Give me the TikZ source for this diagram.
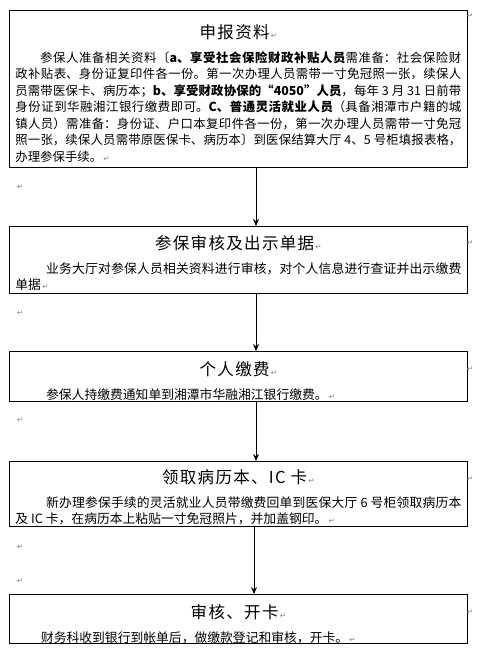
\documentclass[tikz,border=0pt]{standalone}
\usepackage{fontspec}
\setmainfont{Noto Sans CJK SC}
\newfontfamily\markfont{DejaVu Sans}
\usetikzlibrary{arrows.meta}
\XeTeXlinebreaklocale "zh"
\XeTeXlinebreakskip=0pt plus 1pt

\newcommand\bodyfont{\fontsize{12.4}{16.5}\selectfont}
\newcommand\widefont{\fontsize{12.8}{16.5}\selectfont}
\newcommand\kopfont{\fontsize{16.5}{20}\selectfont\addfontfeatures{LetterSpace=8}}
\newcommand\pmk{{\markfont\fontsize{7.5}{8}\selectfont\color{gray}\,↵}}
\newcommand\kop[1]{\makebox[\linewidth][c]{\kopfont #1\pmk}\par\vspace{7pt}}

\begin{document}
\begin{tikzpicture}[>={Stealth[length=7pt,width=6pt]}, x=1pt, y=-1pt,
  stagebox/.style={draw, line width=0.8pt, text width=446pt, inner xsep=6pt,
    inner ysep=0pt, align=justify, anchor=north west, font=\bodyfont},
  flow/.style={->, line width=0.8pt},
  markbox/.style={inner sep=0pt, font=\markfont\fontsize{7.5}{8}\selectfont, text=gray}]

  \useasboundingbox (0,0) rectangle (477,651);

  % Stappen
  \node[stagebox, text height=28.8pt, text depth=128.7pt] (aanvraag) at (9,9.5)
    {\kop{申报资料}\hspace*{2em}参保人准备相关资料〔\textbf{a、享受社会保险财政补贴人员}需准备：社会保险财\linebreak
     政补贴表、身份证复印件各一份。第一次办理人员需带一寸免冠照一张，续保人\linebreak
     员需带医保卡、病历本；\textbf{b、享受财政协保的“4050”人员}，每年 3 月 31 日前带\linebreak
     身份证到华融湘江银行缴费即可。\textbf{C、普通灵活就业人员}（具备湘潭市户籍的城\linebreak
     镇人员）需准备：身份证、户口本复印件各一份，第一次办理人员需带一寸免冠\linebreak
     照一张，续保人员需带原医保卡、病历本〕到医保结算大厅 4、5 号柜填报表格，\linebreak
     办理参保手续。\pmk};

  \node[stagebox, font=\widefont, text height=23.3pt, text depth=43.7pt] (controle) at (9,226)
    {\kop{参保审核及出示单据}\hspace*{2.4em}业务大厅对参保人员相关资料进行审核，对个人信息进行查证并出示缴费\linebreak
     单据\pmk};

  \node[stagebox, font=\widefont, text height=24.3pt, text depth=25.7pt] (betaling) at (9,351)
    {\kop{个人缴费}\hspace*{2.4em}参保人持缴费通知单到湘潭市华融湘江银行缴费。\pmk};

  \node[stagebox, font=\widefont, text height=22.3pt, text depth=42.7pt] (ophalen) at (9,461)
    {\kop{领取病历本、IC 卡}\hspace*{2.4em}新办理参保手续的灵活就业人员带缴费回单到医保大厅 6 号柜领取病历本\linebreak
     及 IC 卡，在病历本上粘贴一寸免冠照片，并加盖钢印。\pmk};

  \node[stagebox, font=\widefont, text height=24.3pt, text depth=24.7pt] (kaart) at (9,594)
    {\kop{审核、开卡}\hspace*{2em}财务科收到银行到帐单后，做缴款登记和审核，开卡。\pmk};

  % Pijlen
  \coordinate (as)  at (256,0);
  \coordinate (as2) at (254,0);
  \draw[flow] (aanvraag.south -| as) -- (controle.north -| as);
  \draw[flow] (controle.south -| as) -- (betaling.north -| as);
  \draw[flow] (betaling.south -| as) -- (ophalen.north -| as);
  \draw[flow] (ophalen.south -| as2) -- (kaart.north -| as2);

  % Alineatekens
  \node[markbox] (r1) at (470,16)  {↵};
  \node[markbox] (r2) at (470,243) {↵};
  \node[markbox] (r3) at (470,369) {↵};
  \node[markbox] (r4) at (470,479) {↵};
  \node[markbox] (r5) at (470,612) {↵};
  \node[markbox] (l1) at (20,187)  {↵};
  \node[markbox] (l2) at (20,313)  {↵};
  \node[markbox] (l3) at (20,420)  {↵};
  \node[markbox] (l4) at (20,547)  {↵};
  \node[markbox] (l5) at (20,581)  {↵};

\end{tikzpicture}
\end{document}
